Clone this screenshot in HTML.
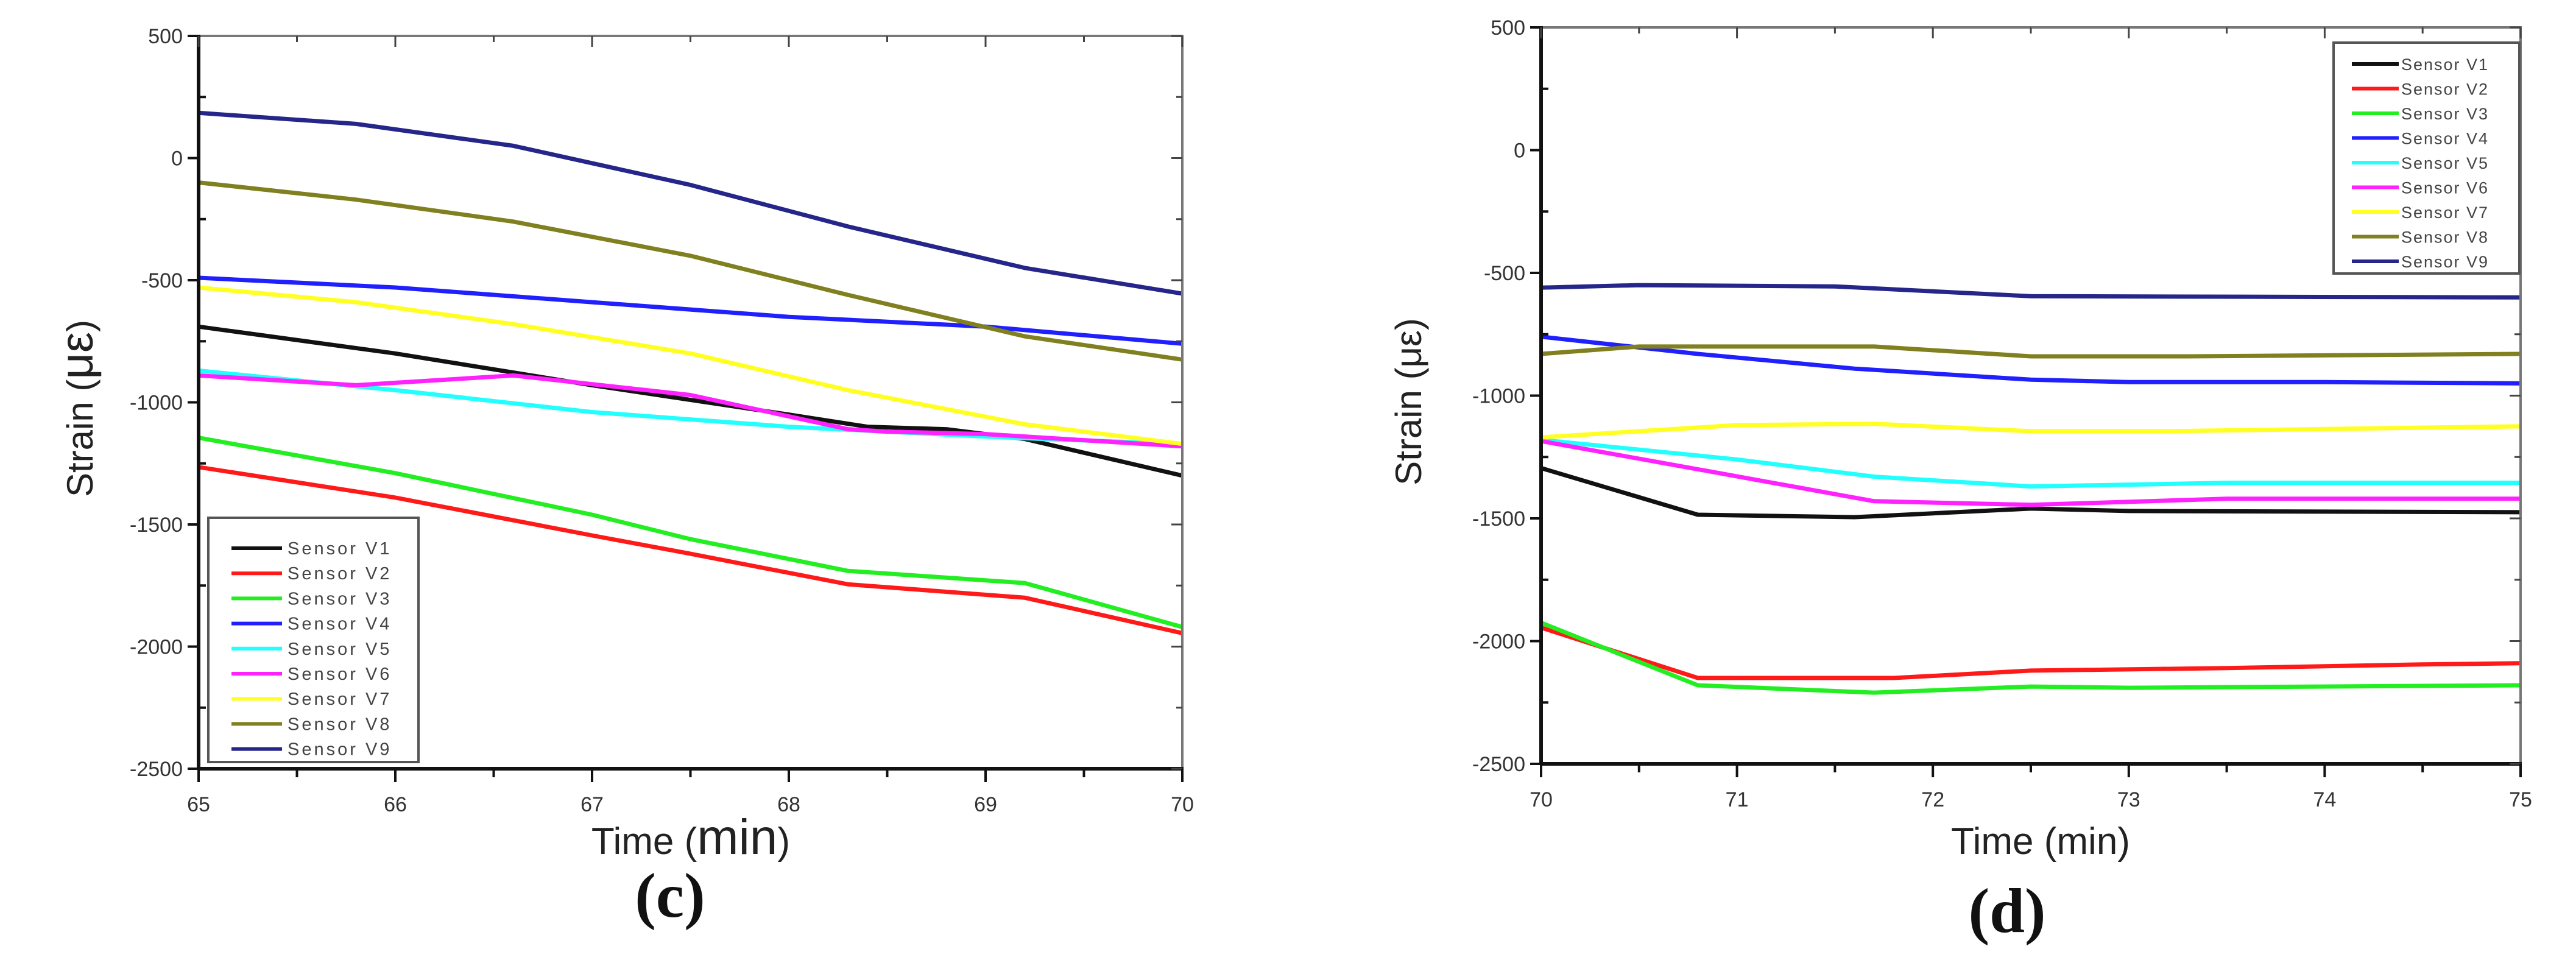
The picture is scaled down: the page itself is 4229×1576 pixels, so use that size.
<!DOCTYPE html>
<html><head><meta charset="utf-8">
<style>
html,body{margin:0;padding:0;background:#fff;}
svg{display:block;}
text{font-family:"Liberation Sans",sans-serif;}
</style></head>
<body>
<svg id="fig" width="4229" height="1576" viewBox="0 0 4229 1576" xmlns="http://www.w3.org/2000/svg">
<g id="pc"></g>
<g id="pd"></g>
</svg>
<script>
const NS="http://www.w3.org/2000/svg";
const sensorNames=["Sensor V1","Sensor V2","Sensor V3","Sensor V4","Sensor V5","Sensor V6","Sensor V7","Sensor V8","Sensor V9"];
const sensorColors=["#111111","#ff1a1a","#22ee22","#2020ff","#22ffff","#ff22ff","#ffff22","#808020","#26268a"];
const yTicks=[500,0,-500,-1000,-1500,-2000,-2500];
const xTicksC=[65,66,67,68,69,70];
const xTicksD=[70,71,72,73,74,75];
// chart (c) data: [time, strain]
const cV1=[[65,-690],[66,-800],[67,-930],[68,-1050],[68.4,-1100],[68.8,-1110],[69.2,-1150],[70,-1300]];
const cV2=[[65,-1265],[66,-1390],[67,-1545],[67.5,-1620],[68.3,-1745],[69.2,-1800],[70,-1945]];
const cV3=[[65,-1145],[66,-1290],[67,-1460],[67.5,-1560],[68.3,-1690],[69.2,-1740],[70,-1920]];
const cV4=[[65,-490],[66,-530],[67,-590],[68,-650],[69,-690],[70,-760]];
const cV5=[[65,-870],[66,-950],[67,-1040],[68,-1100],[68.5,-1120],[69,-1140],[69.3,-1150],[70,-1170]];
const cV6=[[65,-890],[65.8,-930],[66.6,-890],[67.5,-970],[68.3,-1110],[68.5,-1120],[69,-1130],[70,-1180]];
const cV7=[[65,-530],[65.8,-590],[66.6,-680],[67.5,-800],[68.3,-950],[69.2,-1090],[70,-1170]];
const cV8=[[65,-100],[65.8,-170],[66.6,-260],[67.5,-400],[68.3,-560],[69.2,-730],[70,-825]];
const cV9=[[65,185],[65.8,140],[66.6,50],[67.5,-110],[68.3,-280],[69.2,-450],[70,-555]];
// chart (d) data
const dV1=[[70,-1295],[70.8,-1485],[71.6,-1495],[72.5,-1460],[73,-1470],[75,-1475]];
const dV2=[[70,-1945],[70.8,-2150],[71.8,-2150],[72.5,-2120],[73.5,-2110],[74.5,-2095],[75,-2090]];
const dV3=[[70,-1925],[70.8,-2180],[71.7,-2210],[72.5,-2185],[73,-2190],[75,-2180]];
const dV4=[[70,-760],[70.8,-830],[71.6,-890],[72.5,-935],[73,-945],[74,-945],[75,-950]];
const dV5=[[70,-1180],[71,-1260],[71.7,-1330],[72.5,-1370],[73.5,-1355],[75,-1355]];
const dV6=[[70,-1185],[70.8,-1300],[71.7,-1430],[72.5,-1445],[73.5,-1420],[75,-1420]];
const dV7=[[70,-1170],[71,-1120],[71.7,-1115],[72.5,-1145],[73.2,-1145],[75,-1125]];
const dV8=[[70,-830],[70.5,-800],[71.7,-800],[72.5,-840],[73.3,-840],[75,-830]];
const dV9=[[70,-560],[70.5,-550],[71.5,-555],[72.5,-595],[75,-600]];

function el(tag,attrs,parent,txt){const e=document.createElementNS(NS,tag);for(const k in attrs)e.setAttribute(k,attrs[k]);if(txt!==undefined)e.textContent=txt;parent.appendChild(e);return e;}

function chart(g,cfg){
  const L=cfg.L,R=cfg.R,T=cfg.T,B=cfg.B;
  const x0=cfg.xt[0],x1=cfg.xt[cfg.xt.length-1];
  const sx=v=>L+(v-x0)/(x1-x0)*(R-L);
  const sy=v=>T+(500-v)/3000*(B-T);
  cfg.series.forEach((s,i)=>{
    const p=el('polyline',{points:s.map(d=>sx(d[0]).toFixed(1)+','+sy(d[1]).toFixed(1)).join(' '),fill:'none',stroke:sensorColors[i],'stroke-width':7,'stroke-linejoin':'round'},g);
    
    
  });
  const fr=el('rect',{x:L,y:T,width:R-L,height:B-T,fill:'none',stroke:'#777','stroke-width':4},g);
  
  const ya=el('line',{x1:L,y1:T-2,x2:L,y2:B+2,stroke:'#111','stroke-width':6},g);
  
  const xa=el('line',{x1:L-2,y1:B,x2:R+2,y2:B,stroke:'#111','stroke-width':6},g);
  
  for(let v=500;v>=-2500;v-=250){
    const major=(v%500===0);const y=sy(v);
    el('line',{x1:L-(major?18:0),y1:y,x2:L+(major?0:12),y2:y,stroke:'#111','stroke-width':4},g);
    el('line',{x1:R-(major?18:10),y1:y,x2:R,y2:y,stroke:'#444','stroke-width':3},g);
  }
  yTicks.forEach(v=>{
    const t=el('text',{x:L-26,y:sy(v)+12,'text-anchor':'end','font-size':34,fill:'#333'},g,String(v));
    
  });
  for(let k=0;k<=10;k++){
    const v=x0+k*(x1-x0)/10;const major=k%2===0;const x=sx(v);
    el('line',{x1:x,y1:B,x2:x,y2:B+(major?22:14),stroke:'#111','stroke-width':4},g);
    el('line',{x1:x,y1:T,x2:x,y2:T+(major?18:10),stroke:'#444','stroke-width':3},g);
  }
  cfg.xt.forEach(v=>{
    const t=el('text',{x:sx(v),y:B+70,'text-anchor':'middle','font-size':34,fill:'#333'},g,String(v));
    
  });
  const yt=el('text',{x:0,y:0,'text-anchor':'middle','font-size':60,fill:'#222',transform:'translate('+cfg.ytx+','+((T+B)/2+10)+') rotate(-90)'},g);
  
  yt.innerHTML=cfg.ytitle;
  const xt=el('text',{x:cfg.xtx,y:1402,'text-anchor':'middle','font-size':62,fill:'#222'},g);
  
  xt.innerHTML=cfg.xtitle;
  const lab=el('text',{x:cfg.labx,y:cfg.laby,'text-anchor':'middle','font-size':104,'font-weight':'bold',fill:'#111',style:'font-family:"Liberation Serif",serif'},g,cfg.label);
  
  const lg=el('g',{},g);
  
  el('rect',{x:cfg.lg.x,y:cfg.lg.y,width:cfg.lg.w,height:cfg.lg.h,fill:'#fff',stroke:'#555','stroke-width':4},lg);
  sensorNames.forEach((n,i)=>{
    const y=cfg.lg.ry+i*cfg.lg.dy;
    const e=el('g',{},lg);
    
    
    el('line',{x1:cfg.lg.lx1,y1:y,x2:cfg.lg.lx2,y2:y,stroke:sensorColors[i],'stroke-width':6},e);
    el('text',{x:cfg.lg.tx,y:y+10,'font-size':cfg.lg.fs,fill:'#444','letter-spacing':cfg.lg.ls,'xml:space':'preserve'},e,n.replace(' ','  '));
  });
}
chart(document.getElementById('pc'),{L:326,R:1941,T:59,B:1262,xt:xTicksC,
  series:[cV1,cV2,cV3,cV4,cV5,cV6,cV7,cV8,cV9],
  ytx:152,ytitle:'Strain (<tspan font-size="76">&#956;&#949;</tspan>)',
  xtx:1134,xtitle:'Time (<tspan font-size="82">min</tspan>)',
  label:'(c)',labx:1100,laby:1505,
  lg:{x:342,y:850,w:345,h:401,ry:900,dy:41.2,lx1:380,lx2:463,tx:472,fs:29,ls:4}});
chart(document.getElementById('pd'),{L:2530,R:4138,T:45,B:1254,xt:xTicksD,
  series:[dV1,dV2,dV3,dV4,dV5,dV6,dV7,dV8,dV9],
  ytx:2333,ytitle:'Strain (&#956;&#949;)',
  xtx:3350,xtitle:'Time (min)',
  label:'(d)',labx:3295,laby:1530,
  lg:{x:3831,y:70,w:305,h:379,ry:105,dy:40.5,lx1:3861,lx2:3938,tx:3942,fs:27,ls:2}});
</script>
</body></html>
